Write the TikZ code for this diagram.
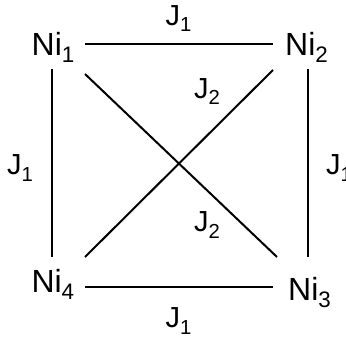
\documentclass[tikz,border=0pt]{standalone}
\usepackage{fontspec}
\setmainfont{Liberation Sans}
\usetikzlibrary{positioning}

\newcommand{\idx}[1]{\textsubscript{\raisebox{-0.12em}{#1}}}

\begin{document}
\begin{tikzpicture}[x=1pt, y=-1pt,
  site/.style={inner sep=0pt, anchor=base west, font=\fontsize{32}{38}\selectfont},
  coup/.style={inner sep=0pt, anchor=base west, font=\fontsize{29}{34}\selectfont},
  bond/.style={line width=2pt}]
\useasboundingbox (0,0) rectangle (346,342);
% Ni sites
\node[site] (ni1) at (31.5,55.7) {Ni\idx{1}};
\node[site] (ni2) at (285,55.5) {Ni\idx{2}};
\node[site] (ni3) at (288,300.5) {Ni\idx{3}};
\node[site] (ni4) at (31.3,292.7) {Ni\idx{4}};
% ends of the bonds
\coordinate (h1) at (85,44);
\coordinate (h2) at (272.5,44);
\coordinate (h4) at (85,287);
\coordinate (h3) at (272.5,287);
\coordinate (v1) at (51.5,69);
\coordinate (v4) at (51.5,257);
\coordinate (v2) at (307.5,69);
\coordinate (v3) at (307.5,257);
\coordinate (d1) at (85,74);
\coordinate (d3) at (277,257);
\coordinate (d2) at (273,70);
\coordinate (d4) at (85,257);
% bonds
\draw[bond] (h1) -- (h2);
\draw[bond] (h4) -- (h3);
\draw[bond] (v1) -- (v4);
\draw[bond] (v2) -- (v3);
\draw[bond] (d1) -- (d3);
\draw[bond] (d2) -- (d4);
% couplings
\node[coup] (jtop) at (165.5,25.5) {J\idx{1}};
\node[coup] (jbot) at (165.5,328) {J\idx{1}};
\node[coup] (jleft) at (7,175) {J\idx{1}};
\node[coup] (jright) at (326,175) {J\idx{1}};
\node[coup] (jup) at (194,98.3) {J\idx{2}};
\node[coup] (jdown) at (194,232) {J\idx{2}};
\end{tikzpicture}
\end{document}
